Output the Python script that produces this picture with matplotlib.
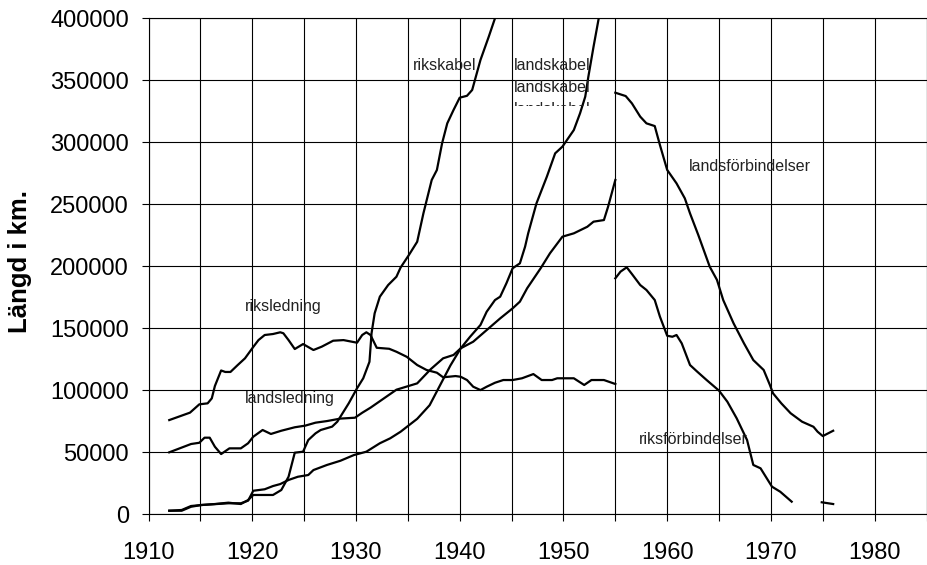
import numpy as np
from matplotlib import pyplot as plt
from matplotlib.ticker import MultipleLocator, FuncFormatter
from matplotlib.transforms import Bbox, TransformedBbox

plt.rcParams['font.family'] = ['Liberation Sans', 'DejaVu Sans']

# riksledning
rl_years = [1912.0, 1914.0, 1914.9, 1915.7, 1916.1, 1916.4, 1917.0, 1917.4, 1917.9, 1918.6,
            1919.3, 1920.1, 1920.6, 1921.2, 1922.0, 1922.7, 1923.0, 1923.5, 1924.1, 1924.9,
            1925.9, 1926.7, 1927.8, 1928.8, 1930.1, 1930.6, 1931.0, 1931.4, 1932.0, 1933.2,
            1933.9, 1934.9, 1935.9, 1936.8, 1937.8, 1938.4, 1939.6, 1940.1, 1940.7, 1941.3,
            1942.0, 1942.6, 1943.4, 1944.2, 1945.1, 1946.0, 1947.1, 1947.9, 1948.9, 1949.4,
            1951.0, 1952.0, 1952.7, 1953.9, 1955.0]
rl_vals = [76000, 82000, 88700, 89500, 93500, 103500, 116000, 114800, 114800, 120400,
           125800, 135000, 140500, 144600, 145400, 146800, 146000, 140500, 133300, 137300,
           132500, 135200, 140000, 140500, 138400, 144600, 146800, 144600, 134300, 133500,
           131100, 127000, 120400, 116400, 114200, 110500, 111500, 110900, 108300, 102900,
           100200, 102900, 106100, 108300, 108300, 109700, 113100, 108300, 108300, 109700,
           109700, 104300, 108300, 108300, 105100]

# landsledning
ll_years = [1912.0, 1914.1, 1914.9, 1915.4, 1915.9, 1916.4, 1917.0, 1917.8, 1918.9, 1919.6,
            1920.1, 1921.0, 1921.8, 1922.8, 1924.1, 1925.1, 1926.1, 1927.2, 1928.5, 1929.9,
            1930.6, 1931.4, 1933.9, 1935.9, 1937.2, 1938.4, 1939.4, 1940.1, 1941.3, 1942.6,
            1943.9, 1945.1, 1945.8, 1946.5, 1947.8, 1948.7, 1949.9, 1951.0, 1952.3, 1952.9,
            1953.9, 1954.3, 1955.0]
ll_vals = [50000, 56700, 57700, 61800, 61800, 54500, 48600, 53200, 53200, 57300,
           62600, 68000, 64800, 67400, 70200, 71500, 73900, 75200, 77200, 77900,
           81900, 86000, 100500, 105600, 117000, 125800, 128500, 133900, 139200, 148600,
           158000, 166100, 171500, 182300, 198400, 210500, 223900, 226600, 231900, 236000,
           237300, 248000, 269600]

# rikskabel
rk_years = [1912.0, 1913.2, 1914.1, 1915.1, 1916.4, 1917.7, 1918.9, 1919.6, 1920.1, 1922.0,
            1922.8, 1923.5, 1924.1, 1924.9, 1925.4, 1926.1, 1926.6, 1927.7, 1928.2, 1929.3,
            1930.1, 1930.7, 1931.3, 1931.5, 1931.8, 1932.3, 1933.1, 1933.9, 1934.3, 1935.1,
            1935.9, 1936.5, 1937.3, 1937.8, 1938.3, 1938.8, 1939.4, 1940.0, 1940.7, 1941.2,
            1942.0, 1942.8, 1943.4]
rk_vals = [2900, 3500, 6700, 7500, 8300, 9400, 8300, 11500, 15600, 15600,
           19600, 30300, 49700, 50500, 59900, 65300, 68000, 70700, 74700, 89500,
           101600, 109700, 123000, 146000, 162100, 175500, 184900, 191600, 199000, 209100,
           219800, 242700, 269600, 277700, 299200, 315300, 326000, 336000, 337500, 342200,
           366400, 385200, 400000]

# landskabel
lk_years = [1912.0, 1913.2, 1914.1, 1915.1, 1917.7, 1918.9, 1919.6, 1920.1, 1921.2, 1922.0,
            1922.7, 1923.5, 1924.4, 1925.4, 1925.9, 1927.2, 1928.5, 1929.8, 1931.0, 1932.3,
            1933.3, 1934.3, 1935.9, 1937.1, 1938.1, 1939.1, 1940.1, 1941.0, 1942.0, 1942.6,
            1943.4, 1943.9, 1944.5, 1945.1, 1945.8, 1946.3, 1946.6, 1947.4, 1948.4, 1949.2,
            1949.9, 1951.0, 1951.6, 1952.1, 1952.4, 1952.9, 1953.4]
lk_vals = [2900, 2900, 6100, 7500, 8900, 8900, 11000, 19000, 20200, 22800,
           24400, 27700, 30300, 31700, 35700, 39800, 43200, 47800, 50500, 57300,
           61300, 66600, 77000, 88000, 104000, 120000, 133900, 143200, 152700, 163400,
           172800, 175500, 186300, 198400, 202400, 215800, 226600, 250800, 272300, 291100,
           296500, 309900, 323400, 336800, 352900, 377100, 400000]

# landsförbindelser
lf_years = [1955.0, 1956.0, 1956.6, 1957.4, 1958.0, 1958.8, 1959.3, 1960.0, 1960.9, 1961.7,
            1962.2, 1963.0, 1964.1, 1964.8, 1965.4, 1966.4, 1967.4, 1968.3, 1969.3, 1969.9,
            1970.2, 1971.0, 1971.9, 1973.0, 1974.1, 1974.5, 1975.0, 1976.0]
lf_vals = [340000, 337300, 331400, 320700, 315300, 313100, 297800, 277700, 266900, 254800,
           242700, 225200, 199700, 189000, 172800, 154000, 137900, 124400, 116400, 104300,
           97600, 89500, 81500, 74700, 70600, 66600, 63100, 67400]

# riksförbindelser (gap 1972-1975)
rf_years = [1955.0, 1955.5, 1956.1, 1956.6, 1957.4, 1958.0, 1958.8, 1959.3, 1960.0, 1960.5,
            1960.9, 1961.4, 1962.2, 1962.9, 1963.8, 1965.0, 1965.8, 1966.7, 1967.7, 1968.3,
            1969.0, 1970.1, 1970.9, 1972.0, 1973.5, 1974.9, 1976.0]
rf_vals = [190300, 195700, 199200, 193800, 184900, 180900, 172800, 159400, 144000, 143200,
           144600, 137900, 120400, 115000, 108300, 99700, 90800, 77400, 59900, 39800,
           37100, 22300, 18200, 10200, np.nan, 9700, 8300]


def main():
    fig = plt.figure(figsize=(9.27, 5.65), dpi=100)
    ax = fig.add_axes([0.1602, 0.0897, 0.8393, 0.8779])

    for xs, ys in [(rl_years, rl_vals), (ll_years, ll_vals), (rk_years, rk_vals),
                   (lk_years, lk_vals), (lf_years, lf_vals), (rf_years, rf_vals)]:
        ax.plot(xs, ys, color='black', lw=1.6, solid_joinstyle='round')

    ax.set_xlim(1910, 1985)
    ax.set_ylim(0, 400000)
    ax.xaxis.set_major_locator(MultipleLocator(5))
    ax.yaxis.set_major_locator(MultipleLocator(50000))
    ax.xaxis.set_major_formatter(FuncFormatter(lambda v, p: f'{int(v)}' if int(v) % 10 == 0 else ''))
    ax.yaxis.set_major_formatter(FuncFormatter(lambda v, p: f'{int(v)}'))
    ax.grid(True, color='black', lw=0.8)
    ax.set_axisbelow(True)
    ax.tick_params(axis='x', direction='out', length=5, width=0.8, pad=15, labelsize=17)
    ax.tick_params(axis='y', direction='out', length=5, width=0.8, pad=9, labelsize=17)
    for s in ax.spines.values():
        s.set_linewidth(0.8)
    ax.set_ylabel('Längd i km.', fontsize=18.5, fontweight='bold')
    ax.yaxis.set_label_coords(-0.1496, 0.51)

    # etiketter
    kw = dict(fontsize=11.5, color='#222222', va='center', ha='left')
    ax.text(1923.0, 167400, 'riksledning', **{**kw, 'ha': 'center'})
    ax.text(1919.3, 93500, 'landsledning', **kw)
    ax.text(1935.5, 362300, 'rikskabel', **kw)
    ax.text(1945.2, 362300, 'landskabel', **kw)
    ax.text(1945.2, 344600, 'landskabel', **kw)
    t = ax.text(1945.2, 326800, 'landskabel', **kw)
    t.set_clip_box(TransformedBbox(Bbox([[1940, 329000], [1955, 340000]]), ax.transData))
    t.set_clip_on(True)
    ax.text(1962.1, 280300, 'landsförbindelser', **kw)
    ax.text(1957.3, 60700, 'riksförbindelser', **kw)

    fig.savefig('out.png', dpi=100)


if __name__ == '__main__':
    main()
